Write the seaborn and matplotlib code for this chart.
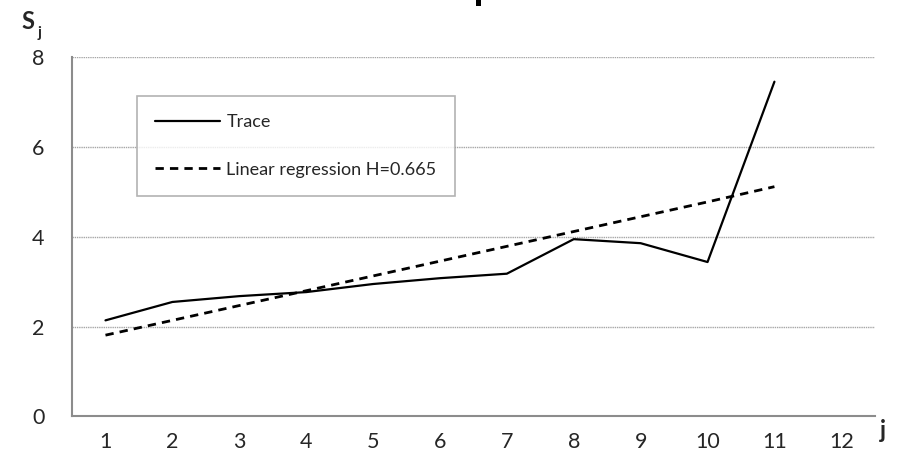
import pandas as pd
import matplotlib.pyplot as plt
import seaborn as sns
from matplotlib.patches import Rectangle

# values
j_values = [1, 2, 3, 4, 5, 6, 7, 8, 9, 10, 11]
trace = [2.14, 2.55, 2.68, 2.77, 2.95, 3.08, 3.18, 3.95, 3.86, 3.44, 7.46]
regression = [1.81, 2.14, 2.47, 2.80, 3.13, 3.46, 3.79, 4.12, 4.45, 4.78, 5.12]
x_labels = ['1', '2', '3', '4', '5', '6', '7', '8', '9', '10', '11', '12']
y_ticks = [0, 2, 4, 6, 8]

sns.set_style('white')
plt.rcParams['font.family'] = ['Lato', 'DejaVu Sans']

df = pd.DataFrame({'j': j_values, 'Trace': trace, 'Regression': regression})

fig = plt.figure(figsize=(9.05, 4.71), dpi=100)
ax = fig.add_axes([0.0796, 0.116, 0.887, 0.762])

grey = '#8c8c8c'

sns.lineplot(data=df, x='j', y='Trace', ax=ax, color='black', lw=1.6,
             label='Trace')
sns.lineplot(data=df, x='j', y='Regression', ax=ax, color='black', lw=2.0,
             linestyle=(0, (3, 2.2)), label='Linear regression H=0.665')

ax.set_xlim(0.5, 12.5)
ax.set_ylim(0, 8)
ax.set_xlabel('')
ax.set_ylabel('')

# category-style axis: ticks between the categories, labels in the middle
ax.set_xticks([i + 0.5 for i in range(0, 13)])
ax.set_xticklabels([])
ax.set_xticks(range(1, 13), minor=True)
ax.set_xticklabels(x_labels, minor=True, fontsize=15.5)
ax.tick_params(axis='x', which='major', direction='out', length=6, width=1.2,
               color=grey)
ax.tick_params(axis='x', which='minor', length=0, pad=11)

ax.set_yticks(y_ticks)
ax.set_yticklabels([str(v) for v in y_ticks], fontsize=15.5)
ax.tick_params(axis='y', direction='out', length=6, width=1.2, color=grey,
               pad=14)

ax.yaxis.grid(True, linestyle=(0, (1, 0.6)), color='#a6a6a6', lw=1.0)
ax.set_axisbelow(True)

for side in ['top', 'right']:
    ax.spines[side].set_visible(False)
for side in ['left', 'bottom']:
    ax.spines[side].set_color(grey)
    ax.spines[side].set_linewidth(1.5)

leg = ax.legend(loc='upper left', bbox_to_anchor=(0.081, 0.893), fontsize=13,
                frameon=True, fancybox=False, handlelength=3.6,
                handletextpad=0.35, labelspacing=1.75, borderpad=1.0,
                borderaxespad=0)
leg.get_frame().set_edgecolor('#a0a0a0')
leg.get_frame().set_linewidth(1.2)

# axis names like the original
fig.text(0.024, 0.955, 'S', fontsize=17, fontweight='bold', va='center')
fig.text(0.041, 0.93, 'j', fontsize=11, fontweight='bold', va='center')
fig.text(0.972, 0.087, 'j', fontsize=17, fontweight='bold', va='center')

# bottom edge of the cut-off title at the top of the image
fig.patches.append(Rectangle((476 / 905, 1 - 6 / 471), 5 / 905, 6 / 471,
                             transform=fig.transFigure, facecolor='black',
                             edgecolor='none'))

plt.savefig('out.png', dpi=100)
